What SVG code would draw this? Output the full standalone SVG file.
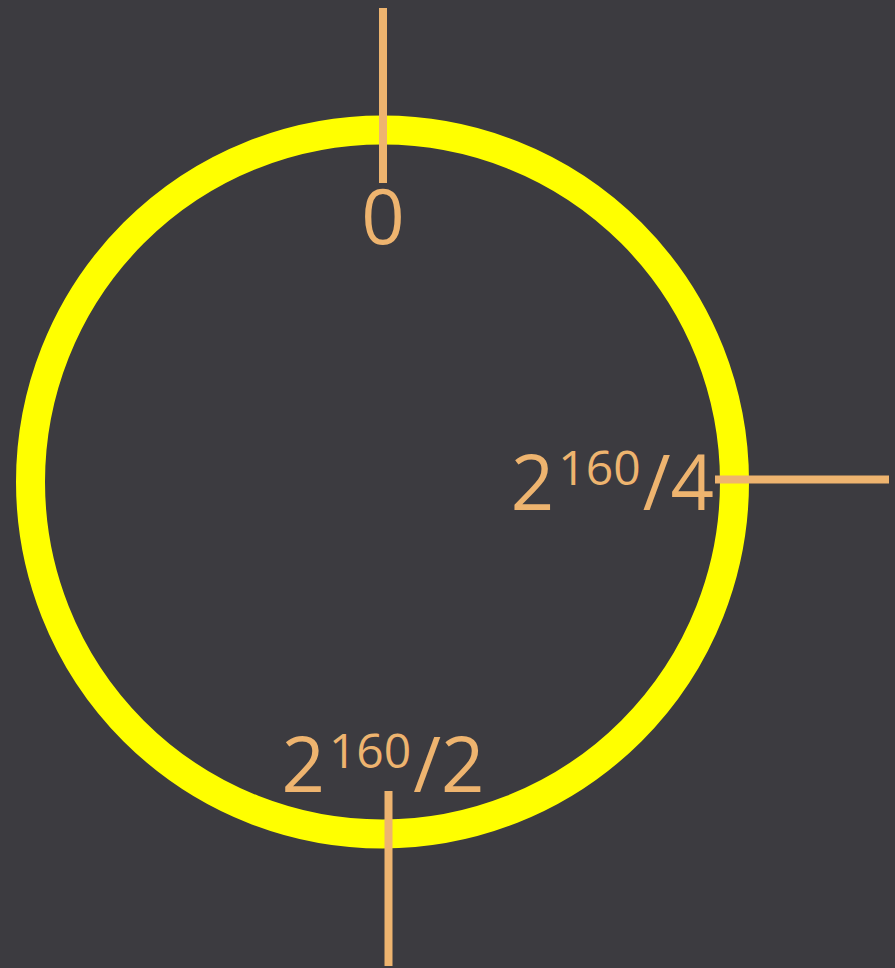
<svg xmlns="http://www.w3.org/2000/svg" width="895" height="968" viewBox="0 0 895 968">
<style>
.tick{stroke:#eeb46f;stroke-width:8;fill:none}
.lbl{font-family:"Open Sans","Noto Sans",sans-serif;font-size:76px;fill:#eeb46f}
.sup{font-size:48px}
</style>
<rect width="895" height="968" fill="#3c3b40"/>
<g id="ring">
<circle cx="382.5" cy="482" r="352" fill="none" stroke="#ffff00" stroke-width="29"/>
</g>
<g id="connectors">
<line class="tick" x1="383" y1="8" x2="383" y2="183"/>
<line class="tick" x1="715" y1="479.5" x2="889" y2="479.5"/>
<line class="tick" x1="388.5" y1="791" x2="388.5" y2="966"/>
</g>
<g id="label-0">
<text class="lbl" x="383" y="244" text-anchor="middle">0</text>
</g>
<g id="label-quarter">
<text class="lbl" x="714" y="510" text-anchor="end">2<tspan class="sup" dx="4" dy="-25">160</tspan><tspan dx="2" dy="25">/4</tspan></text>
</g>
<g id="label-half">
<text class="lbl" x="383" y="792" text-anchor="middle">2<tspan class="sup" dx="4" dy="-24">160</tspan><tspan dx="2" dy="24">/2</tspan></text>
</g>
</svg>
